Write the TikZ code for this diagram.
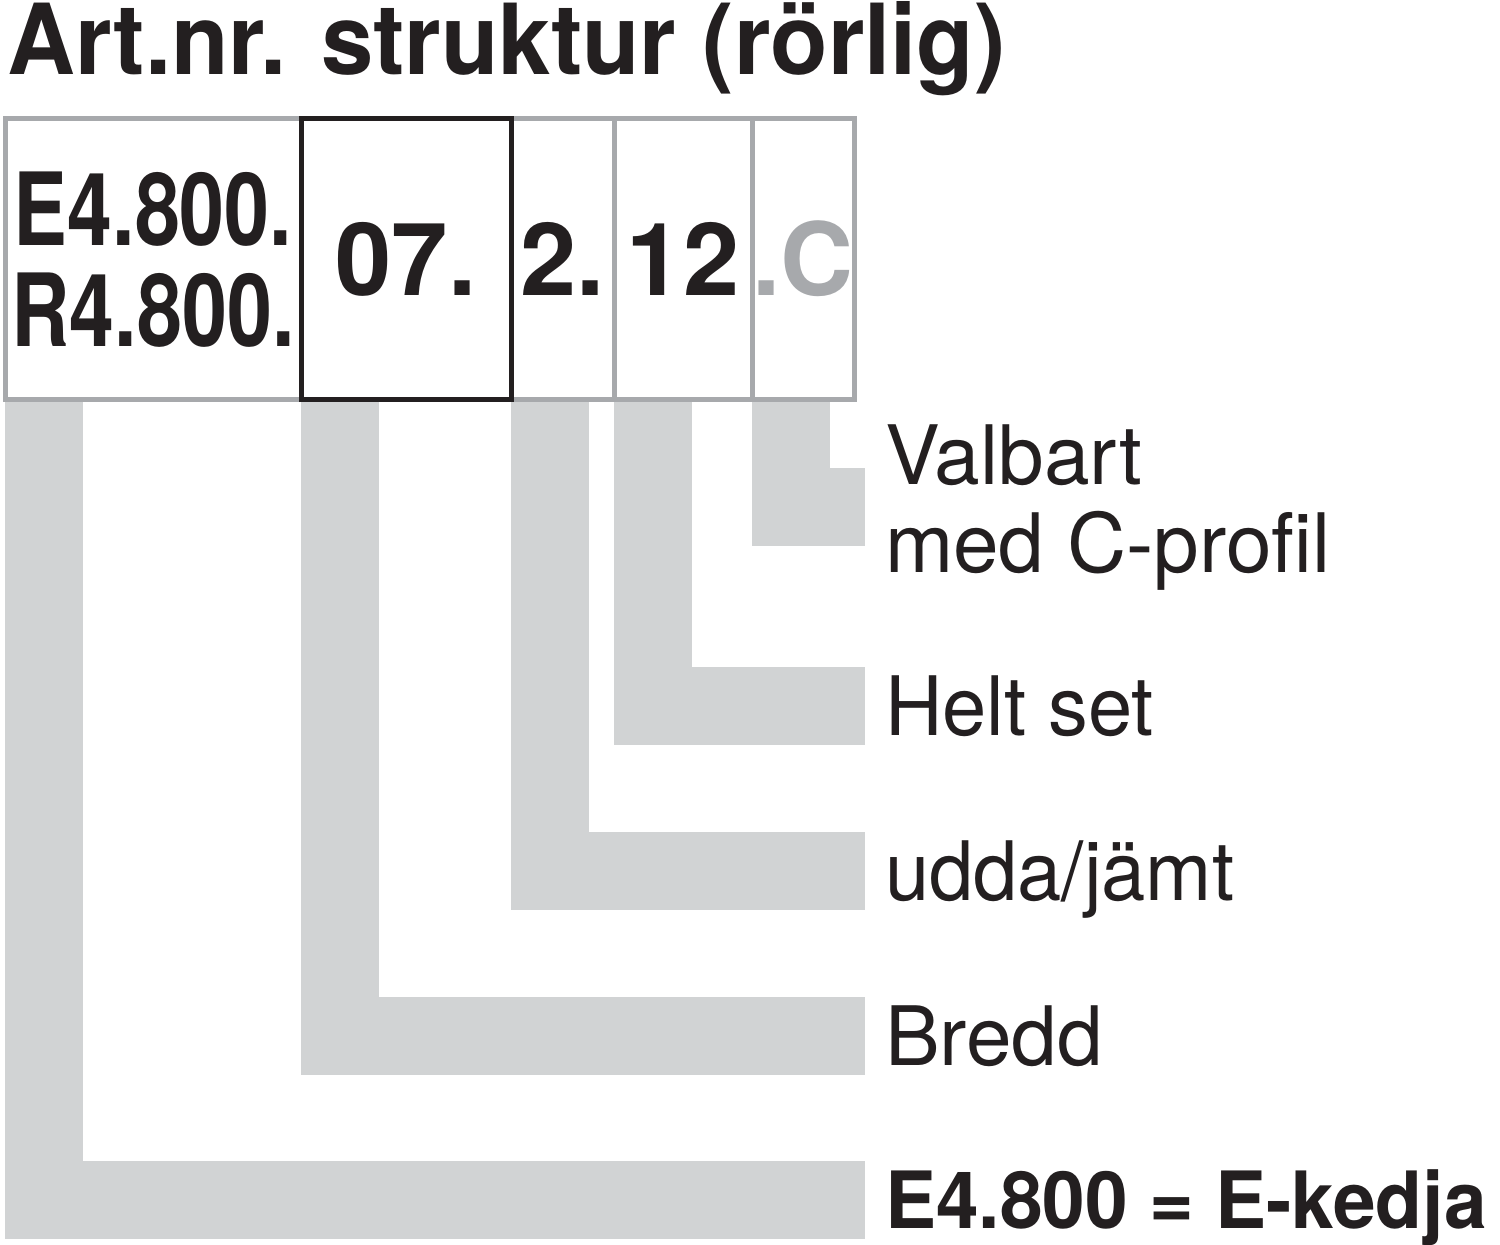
\documentclass[tikz,border=0pt]{standalone}
\usepackage{fontspec}
\setmainfont{TeX Gyre Heros}
\usepackage{graphicx}
\usetikzlibrary{positioning}

\definecolor{barGray}{HTML}{D1D3D4}
\definecolor{boxGray}{HTML}{A7A9AC}
\definecolor{inkBlack}{HTML}{231F20}

\begin{document}
\begin{tikzpicture}[x = 0.5pt, y = -0.5pt,
        numbox/.style = {draw = boxGray, line width = 2.5pt, inner sep = 0, outer sep = 0,
            minimum height = 140.25pt, text = inkBlack,
            font = \fontsize{50.5}{50.5}\selectfont\bfseries, text height = 36.5pt, text depth = 0pt},
        numtext/.style = {inner sep = 0, text = inkBlack,
            font = \fontsize{50.5}{50.5}\selectfont\bfseries, text height = 36.5pt, text depth = 0pt},
        desc/.style = {anchor = west, inner xsep = 10pt, inner ysep = 0, outer sep = 0, text = inkBlack,
            font = \fontsize{41}{44}\selectfont, text height = 29.4pt, text depth = 0pt},
        conn/.style = {draw = barGray, line width = 39pt, line join = miter}]

        \useasboundingbox (0,0) rectangle (1500,1245);

        % title
        \node[anchor = base west, inner sep = 0, text = inkBlack,
            font = \fontsize{49}{49}\selectfont\bfseries] (title) at (7,75)
            {\scalebox{0.96}[1]{Art.nr. struktur (rörlig)}};

        % draw the number boxes
        \node[numbox, minimum width = 148pt] (box_art) at (153,259.25) {};
        \node[numbox, minimum width = 51.5pt] (box_parity) at (562.5,259.25) {2.};
        \node[numbox, minimum width = 69pt] (box_set) at (683,259.25) {12};
        \node[numbox, minimum width = 51pt, text = boxGray] (box_c) at (803,259.25) {.C};
        \node[numbox, draw = inkBlack, minimum width = 105pt] (box_width) at (406,259.25) {07.};

        \node[numtext] (art_e) at ([yshift = 25.25pt]box_art.center) {\scalebox{0.8}[1]{E4.800.}};
        \node[numtext] (art_r) at ([yshift = -25.25pt]box_art.center) {\scalebox{0.8}[1]{R4.800.}};

        % descriptions
        \node[desc, font = \fontsize{39.5}{44}\selectfont\bfseries, text height = 28.4pt] (desc_chain) at (865,1200)
            {\scalebox{0.97}[1]{E4.800 = E-kedja}};
        \node[desc] (desc_width) at (865,1036) {Bredd};
        \node[desc] (desc_parity) at (865,871) {\scalebox{0.97}[1]{udda/jämt}};
        \node[desc] (desc_set) at (865,706) {\scalebox{0.97}[1]{Helt set}};
        \node[desc] (desc_c_top) at (865,455) {Valbart};
        \node[desc] (desc_c_bot) at (865,543) {med C-profil};
        \coordinate (c_end) at (865,507.5);

        % draw the gray bars
        \draw[conn] ([xshift = 19.5pt, yshift = -1.25pt]box_art.south west) |- (desc_chain.west);
        \draw[conn] ([xshift = 19.5pt, yshift = -1.25pt]box_width.south west) |- (desc_width.west);
        \draw[conn] ([xshift = 19.5pt, yshift = -1.25pt]box_parity.south west) |- (desc_parity.west);
        \draw[conn] ([xshift = 19.5pt, yshift = -1.25pt]box_set.south west) |- (desc_set.west);
        \draw[conn] ([xshift = 19.5pt, yshift = -1.25pt]box_c.south west) |- (c_end);

      \end{tikzpicture}
\end{document}
